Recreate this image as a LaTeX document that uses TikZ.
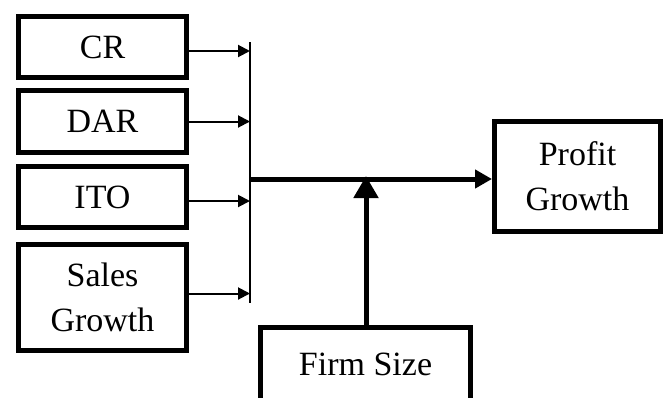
\documentclass[tikz,border=0pt]{standalone}
\usepackage{fontspec}
\setmainfont{Liberation Serif}
\usetikzlibrary{arrows.meta}
\begin{document}
\begin{tikzpicture}[x=1pt,y=-1pt,
  box/.style={draw=black,line width=5pt,fill=white,inner sep=0pt,
    align=center,font=\fontsize{34}{45}\selectfont},
  thin/.style={line width=2pt,-{Triangle[length=12pt,width=12pt]}},
  thick/.style={line width=5pt}]
\clip (0,0) rectangle (668,397);
\fill[white] (0,0) rectangle (668,397);
% input factors
\node[box,minimum width=168pt,minimum height=61pt] (cr) at (102.5,47) {CR};
\node[box,minimum width=168pt,minimum height=62pt] (dar) at (102.5,121.5) {DAR};
\node[box,minimum width=168pt,minimum height=61pt] (ito) at (102.5,197) {ITO};
\node[box,minimum width=168pt,minimum height=106pt] (sg) at (102.5,297.5) {Sales\\Growth};
% outcome and moderator
\node[box,minimum width=166pt,minimum height=110pt] (pg) at (577.5,176.5) {Profit\\Growth};
\node[box,minimum width=210pt,minimum height=80pt,text depth=0pt] (fs) at (365.5,367.5) {\raisebox{7pt}{Firm Size}};
% collecting bus
\coordinate (bt) at (250,42);
\coordinate (bb) at (250,303);
\coordinate (bj) at (250,179);
\coordinate (mj) at (366,179);
\draw[line width=2pt] (bt) -- (bb);
\draw[thin] ([yshift=-4pt]cr.east) -- ([yshift=-4pt]cr.east -| bt);
\draw[thin] (dar.east) -- (dar.east -| bt);
\draw[thin] ([yshift=-4pt]ito.east) -- ([yshift=-4pt]ito.east -| bt);
\draw[thin] ([yshift=4pt]sg.east) -- ([yshift=4pt]sg.east -| bt);
% main path to profit growth
\draw[thick,-{Triangle[length=17pt,width=18pt]}] (bj) -- (bj -| pg.west);
% moderating effect of firm size
\draw[thick,-{Triangle[length=22pt,width=24pt]}] (fs.north -| mj) -- ([yshift=3pt]mj);
\end{tikzpicture}
\end{document}
